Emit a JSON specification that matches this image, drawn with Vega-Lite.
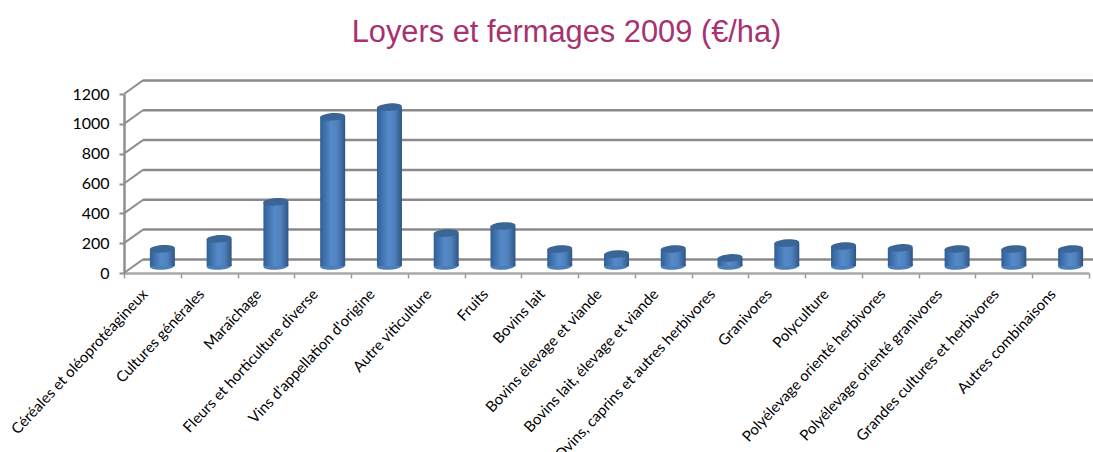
{"$schema":"https://vega.github.io/schema/vega-lite/v6.json","width":965,"height":179,"autosize":"none","padding":{"left":124,"top":94,"right":4,"bottom":179},"background":"white","config":{"view":{"stroke":null},"axisY":{"values":[0,200,400,600,800,1000,1200],"format":"d","labelOverlap":false,"labelFlush":false,"labelBound":false,"grid":false,"domainColor":"#8F8F8F","domainWidth":2.5,"tickColor":"#8F8F8F","tickWidth":2,"tickSize":5,"labelFont":"Lato","labelFontSize":16,"labelColor":"#000000","labelPadding":10,"title":null}},
"title":{"text":"Loyers et fermages 2009 (€/ha)","font":"Liberation Sans","fontSize":30.8,"fontWeight":"normal","color":"#A8316F","anchor":"middle","dx":-40,"dy":-26,"frame":"group"},
"datasets":{"grid":[{"grid":0,"back":91},{"grid":200,"back":291},{"grid":400,"back":491},{"grid":600,"back":691},{"grid":800,"back":891},{"grid":1000,"back":1091},{"grid":1200,"back":1291}],
"bars":[{"orientation":"Céréales et oléoprotéagineux","loyer":115},{"orientation":"Cultures générales","loyer":182},{"orientation":"Maraîchage","loyer":430},{"orientation":"Fleurs et horticulture diverse","loyer":1000},{"orientation":"Vins d'appellation d'origine","loyer":1065},{"orientation":"Autre viticulture","loyer":221},{"orientation":"Fruits","loyer":268},{"orientation":"Bovins lait","loyer":114},{"orientation":"Bovins élevage et viande","loyer":80},{"orientation":"Bovins lait, élevage et viande","loyer":114},{"orientation":"Ovins, caprins et autres herbivores","loyer":54},{"orientation":"Granivores","loyer":154},{"orientation":"Polyculture","loyer":134},{"orientation":"Polyélevage orienté herbivores","loyer":121},{"orientation":"Polyélevage orienté granivores","loyer":114},{"orientation":"Grandes cultures et herbivores","loyer":114},{"orientation":"Autres combinaisons","loyer":114}]},
"data":{"name":"bars"},
"layer":[
{"data":{"name":"grid"},"mark":{"type":"rule","color":"#8A8A8A","strokeWidth":2.5},"encoding":{"x":{"value":19},"x2":{"value":984},"y":{"field":"back","type":"quantitative","scale":{"domain":[0,1200],"nice":false},"title":null,"axis":{"values":[0,200,400,600,800,1000,1200],"labelOverlap":false}}}},
{"data":{"name":"grid"},"mark":{"type":"rule","color":"#8F8F8F","strokeWidth":2},"encoding":{"x":{"value":0},"x2":{"value":19},"y":{"field":"grid","type":"quantitative","title":null,"axis":{"values":[0,200,400,600,800,1000,1200],"labelOverlap":false}},"y2":{"field":"back"}}},
{"mark":{"type":"point","shape":"M-1,0A1,0.3,0,1,1,1,0A1,0.3,0,1,1,-1,0Z","filled":true,"opacity":1,"size":625,"color":"#4A7DBA","xOffset":10,"yOffset":-7,"angle":-4},"encoding":{"x":{"field":"orientation","type":"nominal","sort":null},"y":{"datum":0,"type":"quantitative","title":null,"axis":{"values":[0,200,400,600,800,1000,1200],"labelOverlap":false}}}},
{"mark":{"type":"bar","size":25,"xOffset":10,"yOffset":-7,"y2Offset":-7,"color":{"gradient":"linear","x1":0,"y1":0,"x2":1,"y2":0,"stops":[{"offset":0,"color":"#2F5F96"},{"offset":0.45,"color":"#558AC9"},{"offset":0.7,"color":"#4F81BD"},{"offset":1,"color":"#2F5585"}]}},"encoding":{"x":{"field":"orientation","type":"nominal","sort":null,"scale":{"type":"band","paddingInner":0,"paddingOuter":0},"title":null,"axis":{"bandPosition":0,"tickBand":"extent","domainColor":"#A8A8A8","domainWidth":2.5,"tickColor":"#9A9A9A","tickWidth":1.5,"tickSize":5,"labelAngle":-47,"labelAlign":"right","labelBaseline":"middle","labelFont":"Lato","labelFontSize":15,"labelColor":"#000000","labelPadding":13,"labelOffset":-8,"labelOverlap":false,"labelBound":false,"labelLimit":400}},"y":{"field":"loyer","type":"quantitative","title":null,"axis":{"values":[0,200,400,600,800,1000,1200],"labelOverlap":false}},"y2":{"datum":0}}},
{"mark":{"type":"point","shape":"M-1,0A1,0.3,0,1,1,1,0A1,0.3,0,1,1,-1,0Z","filled":true,"opacity":1,"size":625,"color":"#3A6596","xOffset":10,"yOffset":-7,"angle":-4},"encoding":{"x":{"field":"orientation","type":"nominal","sort":null},"y":{"field":"loyer","type":"quantitative","title":null,"axis":{"values":[0,200,400,600,800,1000,1200],"labelOverlap":false}}}}
],
"resolve":{"scale":{"y":"shared","x":"shared"}}}
